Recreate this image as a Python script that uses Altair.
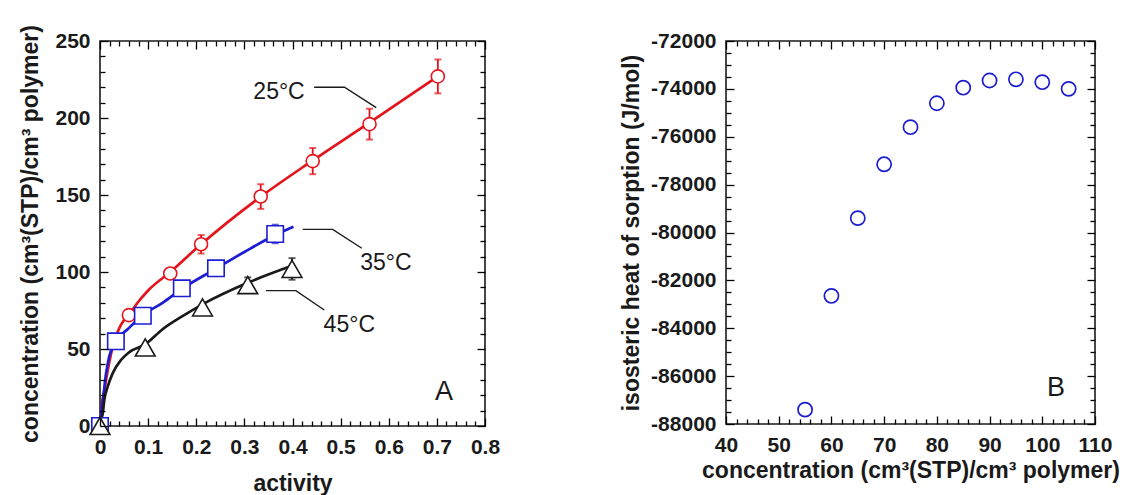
import altair as alt
import pandas as pd

FONT = "Liberation Sans"
INK = "#1a1a1a"
RED = "#e3141b"
BLUE = "#1c1cd2"

# ---------------- Panel A: sorption isotherms ----------------
# measured points
a25 = [0.06, 0.146, 0.21, 0.334, 0.442, 0.56, 0.702]
c25 = [72, 99, 118, 149, 172, 196, 227]
a35 = [0.0, 0.033, 0.089, 0.170, 0.241, 0.364]
c35 = [0, 55, 71.6, 89.4, 102.4, 124.7]
a45 = [0.0, 0.094, 0.213, 0.307, 0.399]
c45 = [0, 51, 77, 91.5, 102]

# error bars (half widths)
e25_a = [0.21, 0.334, 0.442, 0.56, 0.702]
e25_c = [118, 149, 172, 196, 227]
e25_d = [6, 8, 8.5, 10, 11]
e35_a = [0.364]
e35_c = [124.7]
e35_d = [6]
e45_a = [0.307, 0.399]
e45_c = [91.5, 102]
e45_d = [5, 7]

# dual-mode fit curves
fit25_a = [0, 0.004, 0.009, 0.016, 0.023, 0.033, 0.044, 0.06, 0.078, 0.1, 0.146, 0.21, 0.33, 0.44, 0.56, 0.702]
fit25_c = [0, 14, 23, 36, 47, 58, 66, 72, 80, 88, 100, 118, 148, 172, 197, 227]
fit35_a = [0, 0.003, 0.006, 0.0125, 0.019, 0.033, 0.058, 0.089, 0.13, 0.17, 0.24, 0.30, 0.364, 0.402]
fit35_c = [0, 10, 17, 34, 45, 55, 63, 72, 80, 89, 102, 113, 124, 129.4]
fit45_a = [0, 0.002, 0.0056, 0.009, 0.016, 0.026, 0.044, 0.061, 0.094, 0.13, 0.175, 0.213, 0.307, 0.399]
fit45_c = [0, 4, 8, 17, 25.5, 34, 43, 48, 53, 62.8, 72, 79, 93, 104]

# temperature labels and their leader lines
temp_text = ["25°C", "35°C", "45°C"]
temp_x = [0.372, 0.594, 0.518]
temp_y = [217, 105.8, 65.6]
lead_series = ["25", "25", "25", "35", "35", "35", "45", "45", "45"]
lead_x = [0.445, 0.508, 0.574, 0.421, 0.4835, 0.544, 0.345, 0.407, 0.466]
lead_y = [220, 220, 206.7, 127.7, 127.7, 115.4, 87.9, 87.9, 75.3]

# ---------------- Panel B: isosteric heat ----------------
conc_b = [55, 60, 65, 70, 75, 80, 85, 90, 95, 100, 105]
heat_b = [-87400, -82650, -79400, -77150, -75600, -74600, -73950, -73650, -73600, -73720, -74000]


def frame_axes(xscale, yscale, x0, y0, xmaj, xmin, ymaj, ymin, xtitle, ytitle,
               xfmt, xtpad, ytpad):
    """Four invisible layers carrying boxed, inward-ticked axes."""
    df = pd.DataFrame({"x": [x0], "y": [y0]})
    common = dict(domain=False, grid=False, ticks=True, tickColor="black",
                  tickWidth=1.3, tickOpacity=1, zindex=2,
                  labelFont=FONT, labelFontSize=21, labelFontWeight="bold",
                  labelColor=INK, labelOverlap=False, labelFlush=False,
                  titleFont=FONT, titleFontSize=23, titleFontWeight="bold",
                  titleColor=INK)

    def ax(orient, values, size, labels, **kw):
        return alt.Axis(orient=orient, values=values, tickSize=size, offset=-size,
                        labels=labels, **common, **kw)

    xb = dict(title=xtitle, labelPadding=10, titlePadding=xtpad)
    if xfmt:
        xb["format"] = xfmt
    else:
        xb["labelExpr"] = "toString(datum.value)"
    yb = dict(title=ytitle, labelPadding=10, titlePadding=ytpad,
              labelExpr="toString(datum.value)")
    specs = [
        (ax("bottom", xmaj, 8, True, **xb), ax("left", ymaj, 8, True, **yb)),
        (ax("bottom", xmin, 5, False, title=None), ax("left", ymin, 5, False, title=None)),
        (ax("top", xmaj, 8, False, title=None), ax("right", ymaj, 8, False, title=None)),
        (ax("top", xmin, 5, False, title=None), ax("right", ymin, 5, False, title=None)),
    ]
    layers = []
    for xa, ya in specs:
        layers.append(
            alt.Chart(df).mark_point(opacity=0).encode(
                x=alt.X("x:Q", scale=xscale, axis=xa),
                y=alt.Y("y:Q", scale=yscale, axis=ya),
            )
        )
    return layers


# ---------- build panel A ----------
xsA = alt.Scale(domain=[0, 0.8], nice=False, zero=False)
ysA = alt.Scale(domain=[0, 250], nice=False, zero=False)


def XA(f):
    return alt.X(f, type="quantitative", scale=xsA, axis=None)


def YA(f):
    return alt.Y(f, type="quantitative", scale=ysA, axis=None)


fit_df = pd.DataFrame({
    "series": ["25"] * len(fit25_a) + ["35"] * len(fit35_a) + ["45"] * len(fit45_a),
    "a": fit25_a + fit35_a + fit45_a,
    "c": fit25_c + fit35_c + fit45_c,
})
series_color = alt.Color("series:N", scale=alt.Scale(domain=["25", "35", "45"],
                                                      range=[RED, BLUE, INK]), legend=None)
fits = alt.Chart(fit_df).mark_line(strokeWidth=2.7, interpolate="monotone").encode(
    x=XA("a"), y=YA("c"), color=series_color, detail="series:N")

err_df = pd.DataFrame({
    "series": ["25"] * len(e25_a) + ["35"] * len(e35_a) + ["45"] * len(e45_a),
    "a": e25_a + e35_a + e45_a,
    "c": e25_c + e35_c + e45_c,
    "d": e25_d + e35_d + e45_d,
})
err_base = alt.Chart(err_df).transform_calculate(
    lo="datum.c - datum.d", hi="datum.c + datum.d")
err_rules = err_base.mark_rule(strokeWidth=1.8).encode(
    x=XA("a"), y=YA("lo"), y2="hi:Q", color=series_color)
cap_lo = err_base.mark_tick(orient="horizontal", size=7, thickness=2).encode(
    x=XA("a"), y=YA("lo"), color=series_color)
cap_hi = err_base.mark_tick(orient="horizontal", size=7, thickness=2).encode(
    x=XA("a"), y=YA("hi"), color=series_color)


def markers(a, c, shape, color, size):
    df = pd.DataFrame({"a": a, "c": c})
    return alt.Chart(df).mark_point(shape=shape, size=size, filled=False, fill="white",
                                    fillOpacity=1, stroke=color, strokeWidth=1.6,
                                    opacity=1).encode(x=XA("a"), y=YA("c"))


m25 = markers(a25, c25, "circle", RED, 170)
m35 = markers(a35, c35, "square", BLUE, 270)
m45 = markers(a45, c45, "triangle-up", INK, 390)

lead_df = pd.DataFrame({"series": lead_series, "a": lead_x, "c": lead_y})
leaders = alt.Chart(lead_df).mark_line(color=INK, strokeWidth=1.4).encode(
    x=XA("a"), y=YA("c"), detail="series:N", order=alt.Order("a:Q"))

temp_df = pd.DataFrame({"t": temp_text, "a": temp_x, "c": temp_y})
temps = alt.Chart(temp_df).mark_text(font=FONT, fontSize=23, color=INK,
                                     align="center", baseline="middle").encode(
    x=XA("a"), y=YA("c"), text="t:N")

tagA = alt.Chart(pd.DataFrame({"t": ["A"], "a": [0.715], "c": [22.3]})).mark_text(
    font=FONT, fontSize=27, color=INK, align="center", baseline="middle").encode(
    x=XA("a"), y=YA("c"), text="t:N")

axesA = frame_axes(xsA, ysA, 0, 0,
                   [0, 0.1, 0.2, 0.3, 0.4, 0.5, 0.6, 0.7, 0.8],
                   [0.02, 0.04, 0.06, 0.08, 0.12, 0.14, 0.16, 0.18, 0.22, 0.24, 0.26, 0.28,
                    0.32, 0.34, 0.36, 0.38, 0.42, 0.44, 0.46, 0.48, 0.52, 0.54, 0.56, 0.58,
                    0.62, 0.64, 0.66, 0.68, 0.72, 0.74, 0.76, 0.78],
                   [0, 50, 100, 150, 200, 250],
                   [10, 20, 30, 40, 60, 70, 80, 90, 110, 120, 130, 140, 160, 170, 180, 190,
                    210, 220, 230, 240],
                   "activity", "concentration (cm³(STP)/cm³ polymer)",
                   ".1~f", 15, 12)

panelA = alt.layer(fits, err_rules, cap_lo, cap_hi, m25, m35, m45,
                   leaders, temps, tagA, *axesA).resolve_axis(
    x="independent", y="independent").properties(width=385, height=385)

# ---------- build panel B ----------
xsB = alt.Scale(domain=[40, 110], nice=False, zero=False)
ysB = alt.Scale(domain=[-88000, -72000], nice=False, zero=False)

heat_df = pd.DataFrame({"conc": conc_b, "heat": heat_b})
heat_pts = alt.Chart(heat_df).mark_point(shape="circle", size=200, filled=False,
                                         stroke=BLUE, strokeWidth=1.7, opacity=1).encode(
    x=alt.X("conc:Q", scale=xsB, axis=None),
    y=alt.Y("heat:Q", scale=ysB, axis=None))

tagB = alt.Chart(pd.DataFrame({"t": ["B"], "conc": [102.6], "heat": [-86500]})).mark_text(
    font=FONT, fontSize=27, color=INK, align="center", baseline="middle").encode(
    x=alt.X("conc:Q", scale=xsB, axis=None),
    y=alt.Y("heat:Q", scale=ysB, axis=None), text="t:N")

xminB = [v for v in range(42, 110, 2) if v % 10 != 0]
yminB = [v for v in range(-87500, -72000, 500) if v % 2000 != 0]
axesB = frame_axes(xsB, ysB, 40, -88000,
                   [40, 50, 60, 70, 80, 90, 100, 110], xminB,
                   list(range(-88000, -71999, 2000)), yminB,
                   "concentration (cm³(STP)/cm³ polymer)",
                   "isosteric heat of sorption (J/mol)",
                   None, 4, 7)

panelB = alt.layer(heat_pts, tagB, *axesB).resolve_axis(
    x="independent", y="independent").properties(width=369, height=383)

chart = alt.hconcat(panelA, panelB, spacing=118).properties(
    padding={"left": 19, "top": 23, "right": 5, "bottom": 5},
    background="white",
).configure_view(stroke=INK, strokeWidth=1.6)

chart.save("out.html", embed_options={"renderer": "svg", "actions": False})
